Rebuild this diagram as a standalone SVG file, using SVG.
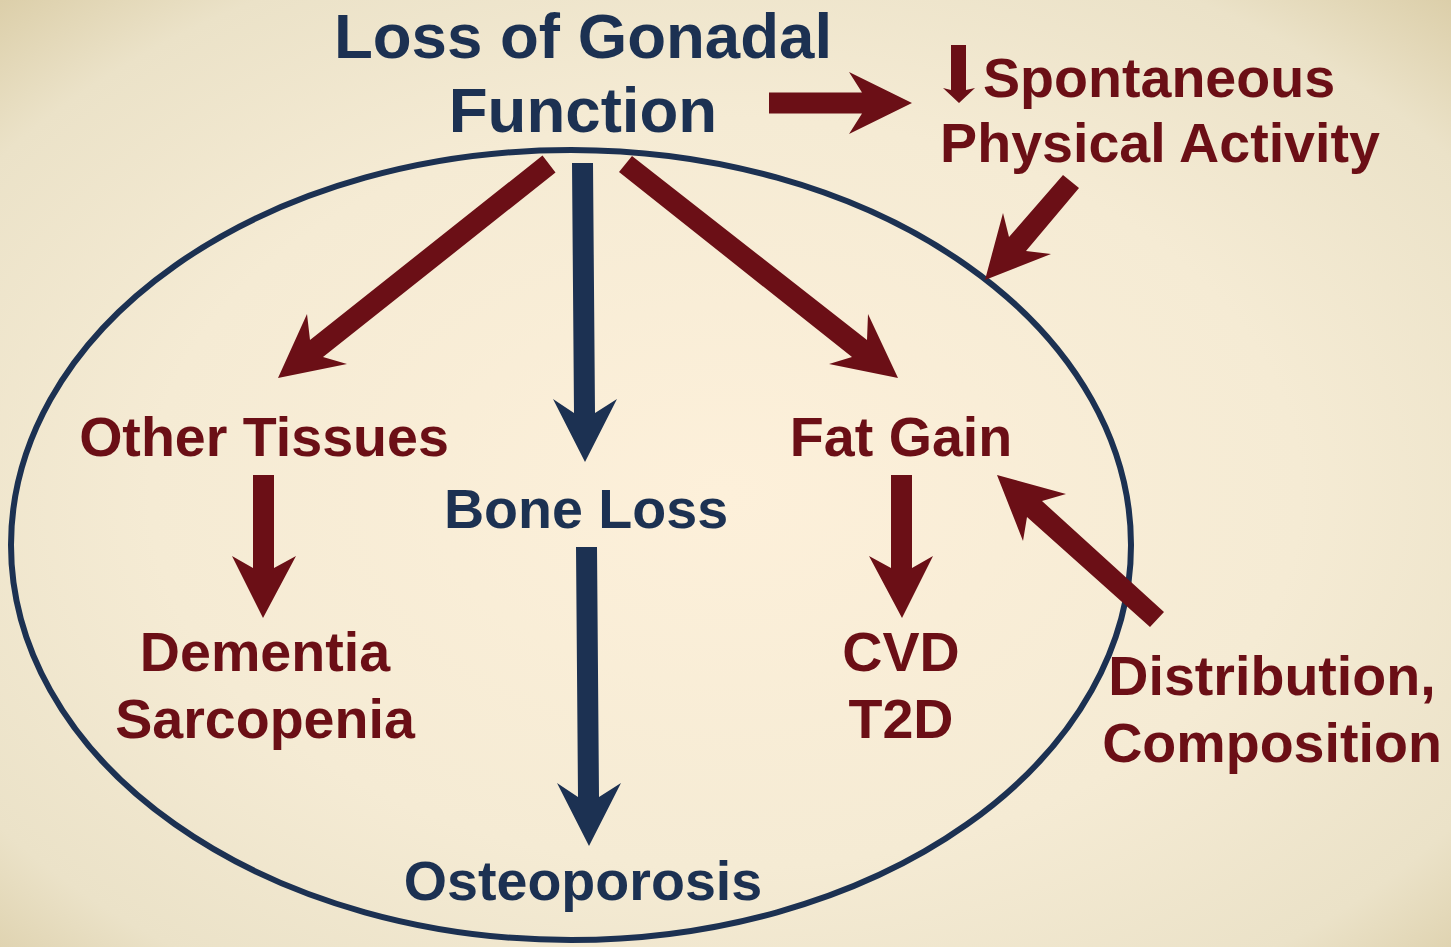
<svg xmlns="http://www.w3.org/2000/svg" width="1451" height="947" viewBox="0 0 1451 947">
  <defs>
    <radialGradient id="bg" cx="50%" cy="52%" r="72%">
      <stop offset="0" stop-color="#fdf0da"/>
      <stop offset="0.55" stop-color="#f5ebd4"/>
      <stop offset="0.85" stop-color="#ebe2c8"/>
      <stop offset="1" stop-color="#dccfaa"/>
    </radialGradient>
    <style>
      .red { fill: #6b0f16; }
      .navy { fill: #1c3152; }
      text { font-family: "Liberation Sans", Arial, sans-serif; font-weight: bold; text-anchor: middle; }
      .t-navy { fill: #1c3152; font-size: 55.6px; }
      .t-title { fill: #1c3152; font-size: 63.6px; }
      .t-red { fill: #6b0f16; font-size: 55.6px; }
    </style>
  </defs>
  <rect x="0" y="0" width="1451" height="947" fill="url(#bg)"/>
  <ellipse id="boundary" cx="571" cy="545" rx="560" ry="395" fill="none" stroke="#1c3152" stroke-width="6"/>

  <g id="connectors">
    <polygon class="red" points="769,92.5 862,92.5 849,72 912,103 849,134 862,113.5 769,113.5"/>
    <polygon class="red" points="1063,175 1009,237 1003,213 985,280 1051,254 1026,251 1079,188"/>
    <polygon class="red" points="542.5,155.5 310,340 307,314 278,378 347,364 323,357 555.5,172.5"/>
    <polygon class="red" points="632,156 867,340 868,314 898,378 829,364 852,357 619,172"/>
    <polygon class="navy" points="572,163 593,163 595,413 617,399 585,462 553,399 574,413"/>
    <polygon class="red" points="253,475 274,475 274,568 296,556 263,618 232,556 253,568"/>
    <polygon class="navy" points="576,547 597,547 599,797 621,783 589,846 557,783 578,797"/>
    <polygon class="red" points="891,475 912,475 912,568 933,556 902,618 869,556 891,568"/>
    <polygon class="red" points="1164,612 1042,501 1066,494 997,475 1023,541 1027,517 1150,627"/>
  </g>

  <g id="node-gonadal">
    <text class="t-title" x="583" y="58">Loss of Gonadal</text>
    <text class="t-title" x="583" y="132">Function</text>
  </g>
  <g id="node-activity">
    <polygon class="red" points="951,45 966,45 966,90 975,88 959,103 943,88 951,90"/>
    <text class="t-red" x="983" y="97" style="text-anchor:start">Spontaneous</text>
    <text class="t-red" x="1160" y="162">Physical Activity</text>
  </g>
  <g id="node-other-tissues">
    <text class="t-red" x="264" y="456">Other Tissues</text>
  </g>
  <g id="node-bone-loss">
    <text class="t-navy" x="586" y="528">Bone Loss</text>
  </g>
  <g id="node-fat-gain">
    <text class="t-red" x="901" y="456">Fat Gain</text>
  </g>
  <g id="node-dementia">
    <text class="t-red" x="265" y="671">Dementia</text>
    <text class="t-red" x="265" y="738">Sarcopenia</text>
  </g>
  <g id="node-cvd">
    <text class="t-red" x="901" y="671">CVD</text>
    <text class="t-red" x="901" y="738">T2D</text>
  </g>
  <g id="node-distribution">
    <text class="t-red" x="1272" y="695">Distribution,</text>
    <text class="t-red" x="1272" y="762">Composition</text>
  </g>
  <g id="node-osteoporosis">
    <text class="t-navy" x="583" y="900">Osteoporosis</text>
  </g>
</svg>
